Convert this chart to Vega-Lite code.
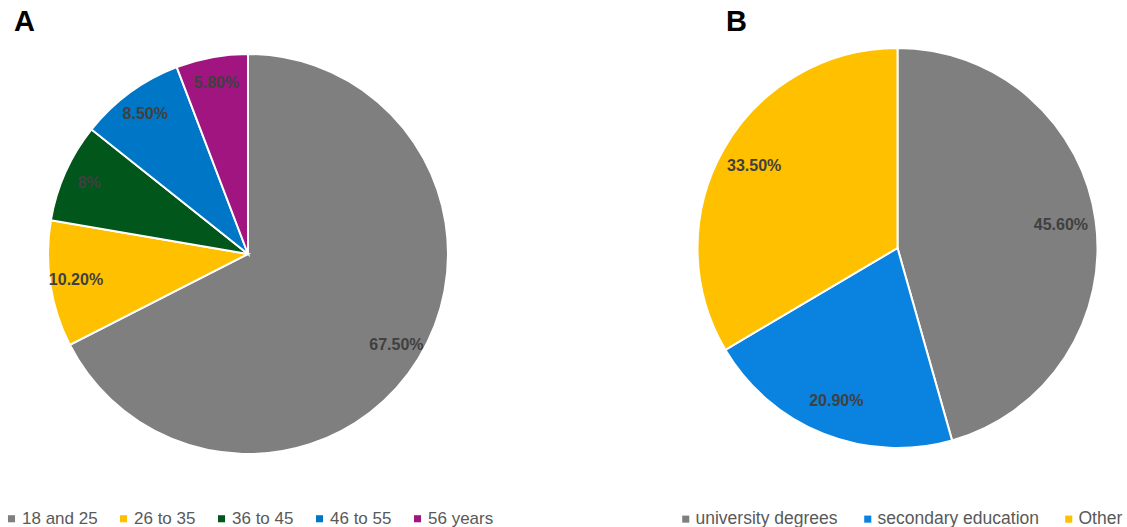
{
  "$schema": "https://vega.github.io/schema/vega-lite/v6.json",
  "background": "white",
  "padding": {"left": 3, "top": 8, "right": 0, "bottom": 0},
  "spacing": 183,
  "config": {
    "view": {"stroke": null},
    "title": {"fontSize": 29, "fontWeight": "bold", "font": "Liberation Sans", "color": "#000000", "anchor": "start", "frame": "group", "offset": 5},
    "legend": {"orient": "bottom", "direction": "horizontal", "title": null, "symbolType": "square", "symbolSize": 50, "symbolStrokeWidth": 0, "labelFontSize": 17, "labelFont": "Liberation Sans", "labelColor": "#595959", "columnPadding": 17, "labelOffset": 2, "labelLimit": 300, "padding": 0}
  },
  "datasets": {
    "age": [
      {"group": "18 and 25", "pct": 67.5, "label": "67.50%", "idx": 1},
      {"group": "26 to 35", "pct": 10.2, "label": "10.20%", "idx": 2},
      {"group": "36 to 45", "pct": 8.0, "label": "8%", "idx": 3},
      {"group": "46 to 55", "pct": 8.5, "label": "8.50%", "idx": 4},
      {"group": "56 years", "pct": 5.8, "label": "5.80%", "idx": 5}
    ],
    "edu": [
      {"level": "university degrees", "share": 45.6, "label": "45.60%", "idx": 1},
      {"level": "secondary education", "share": 20.9, "label": "20.90%", "idx": 2},
      {"level": "Other", "share": 33.5, "label": "33.50%", "idx": 3}
    ]
  },
  "resolve": {"scale": {"color": "independent"}, "legend": {"color": "independent"}},
  "hconcat": [
    {
      "title": {"text": "A", "dx": 11},
      "width": 490,
      "height": 424,
      "data": {"name": "age"},
      "encoding": {
        "theta": {"field": "pct", "type": "quantitative", "stack": true},
        "order": {"field": "idx", "type": "quantitative"},
        "color": {
          "field": "group", "type": "nominal",
          "sort": ["18 and 25", "26 to 35", "36 to 45", "46 to 55", "56 years"],
          "scale": {"domain": ["18 and 25", "26 to 35", "36 to 45", "46 to 55", "56 years"], "range": ["#7f7f7f", "#ffc000", "#00561b", "#0076c6", "#a0157f"]},
          "legend": {"offset": 44}
        }
      },
      "layer": [
        {"mark": {"type": "arc", "outerRadius": 200, "stroke": "#ffffff", "strokeWidth": 2}},
        {"mark": {"type": "text", "radius": 174, "font": "Liberation Sans", "fontWeight": "bold", "fontSize": 16, "fill": "#404040", "align": "center", "baseline": "middle"},
         "encoding": {"text": {"field": "label", "type": "nominal"}, "color": {"value": "#404040"}}}
      ]
    },
    {
      "title": {"text": "B", "dx": 49},
      "width": 441,
      "height": 412,
      "data": {"name": "edu"},
      "encoding": {
        "theta": {"field": "share", "type": "quantitative", "stack": true},
        "order": {"field": "idx", "type": "quantitative"},
        "color": {
          "field": "level", "type": "nominal",
          "sort": ["university degrees", "secondary education", "Other"],
          "scale": {"domain": ["university degrees", "secondary education", "Other"], "range": ["#7f7f7f", "#0a82e0", "#ffc000"]},
          "legend": {"offset": 56, "columnPadding": 21, "labelFontSize": 17.5, "labelOffset": 1}
        }
      },
      "layer": [
        {"mark": {"type": "arc", "outerRadius": 200, "stroke": "#ffffff", "strokeWidth": 2}},
        {"mark": {"type": "text", "radius": 165, "font": "Liberation Sans", "fontWeight": "bold", "fontSize": 16, "fill": "#404040", "align": "center", "baseline": "middle"},
         "encoding": {"text": {"field": "label", "type": "nominal"}, "color": {"value": "#404040"}}}
      ]
    }
  ]
}
